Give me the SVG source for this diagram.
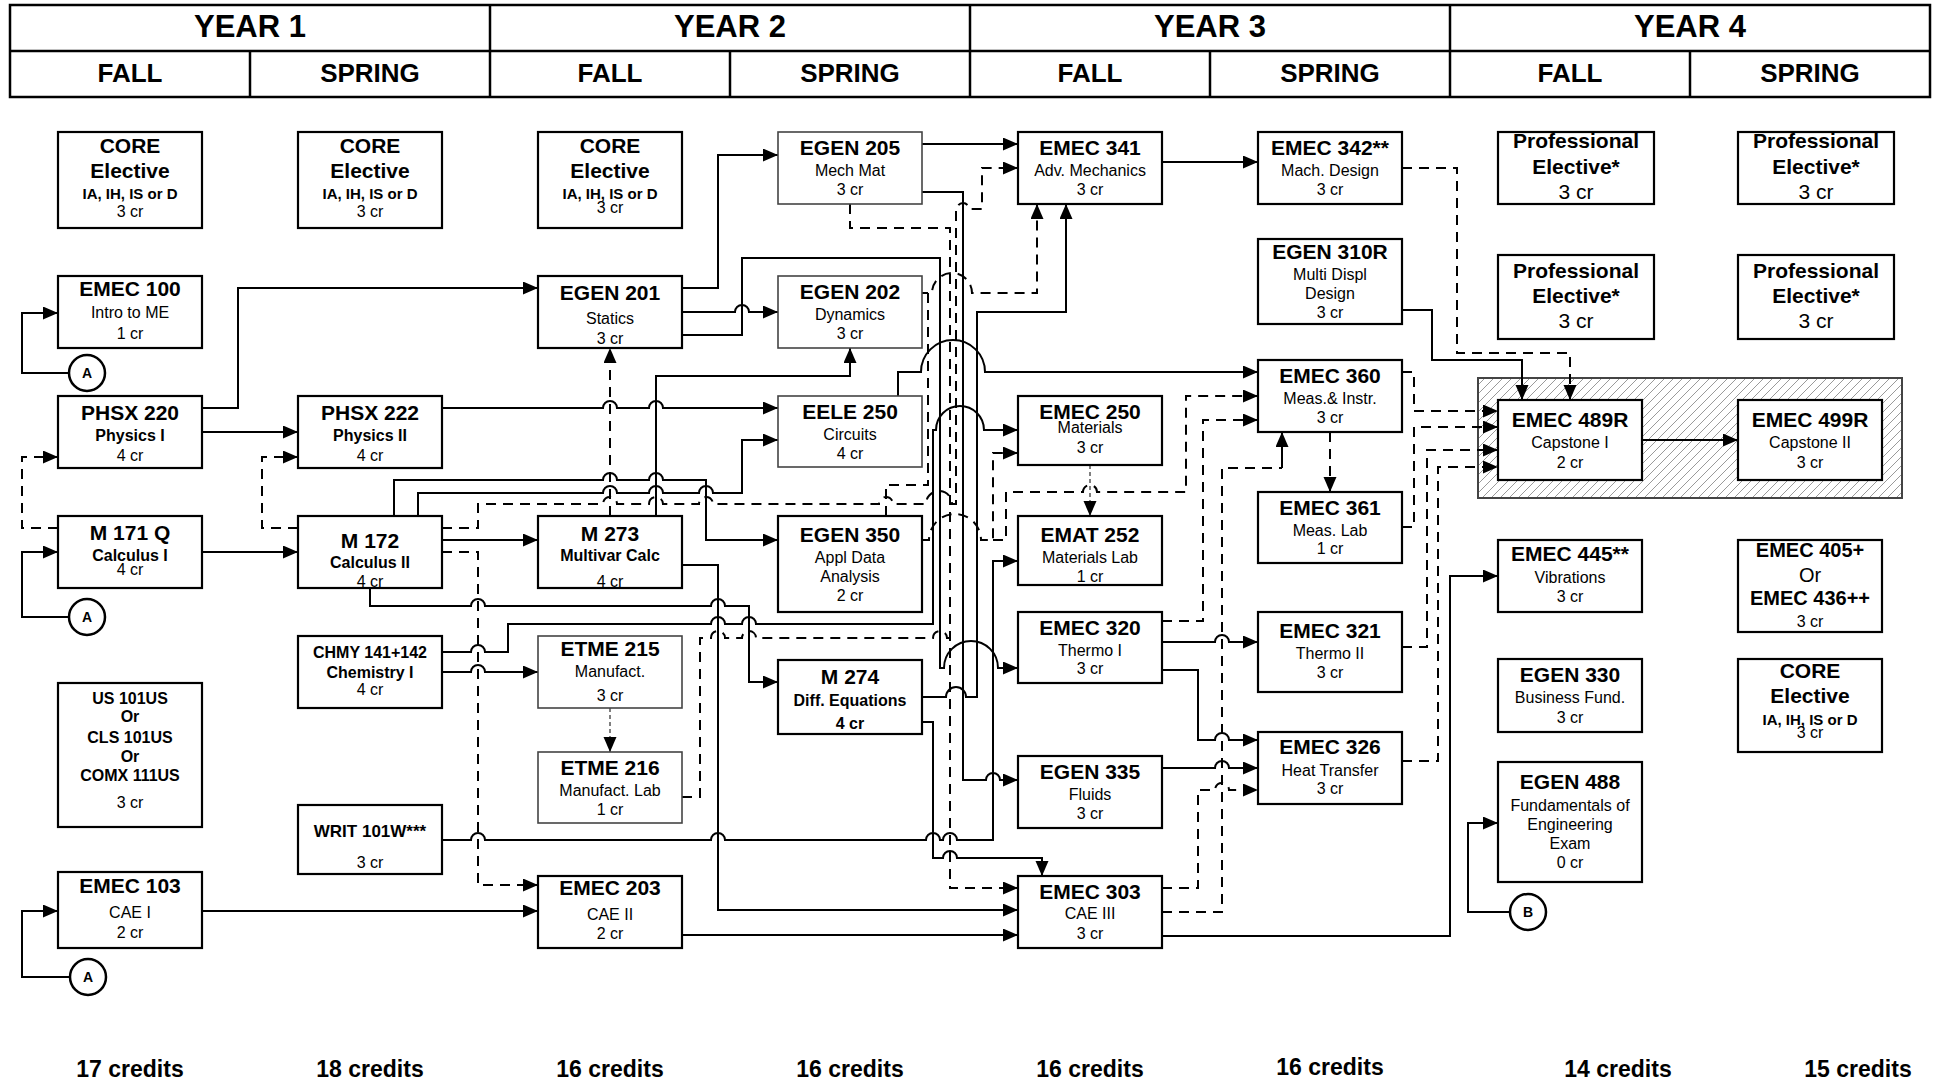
<svg xmlns="http://www.w3.org/2000/svg" width="1935" height="1081" viewBox="0 0 1935 1081">
<style>
text{font-family:"Liberation Sans",Arial,sans-serif;text-anchor:middle;fill:#000}
.hd1{font-size:31px;font-weight:bold}
.hd2{font-size:26px;font-weight:bold}
.h{font-size:21px;font-weight:bold}
.s{font-size:16px}
.sb{font-size:16px;font-weight:bold}
.cb{font-size:15px;font-weight:bold}
.b17{font-size:17px;font-weight:bold}
.b20{font-size:20px;font-weight:bold}
.r20{font-size:20px}
.r21{font-size:21px}
.cr{font-size:23px;font-weight:bold}
.ct{font-size:14px;font-weight:bold}
.box{fill:#fff;stroke:#000;stroke-width:2.2}
.gbox{fill:#fff;stroke:#444;stroke-width:1.6}
.grid{fill:none;stroke:#000;stroke-width:2.5}
.ln{fill:none;stroke:#000;stroke-width:2}
.dl{stroke-dasharray:10 7}
.gd{fill:none;stroke:#555;stroke-width:1.5;stroke-dasharray:4 3}
.circ{fill:#fff;stroke:#000;stroke-width:2.5}
</style>
<defs>
<marker id="ar" markerUnits="userSpaceOnUse" markerWidth="16" markerHeight="14" refX="15" refY="6.5" orient="auto"><path d="M0,0 L15,6.5 L0,13 z" fill="#000"/></marker>
<pattern id="hatch" patternUnits="userSpaceOnUse" width="9" height="9"><path d="M-2,2 l4,-4 M0,9 l9,-9 M7,11 l4,-4" stroke="#9a9a9a" stroke-width="1"/></pattern>
</defs>
<rect width="1935" height="1081" fill="#fff"/>

<g id="header">
<rect class="grid" x="10" y="5" width="1920" height="92"/>
<line class="grid" x1="10" y1="51" x2="1930" y2="51"/>
<line class="grid" x1="490" y1="5" x2="490" y2="97"/>
<line class="grid" x1="970" y1="5" x2="970" y2="97"/>
<line class="grid" x1="1450" y1="5" x2="1450" y2="97"/>
<line class="grid" x1="250" y1="51" x2="250" y2="97"/>
<line class="grid" x1="730" y1="51" x2="730" y2="97"/>
<line class="grid" x1="1210" y1="51" x2="1210" y2="97"/>
<line class="grid" x1="1690" y1="51" x2="1690" y2="97"/>
<text class="hd1" x="250" y="37">YEAR 1</text>
<text class="hd1" x="730" y="37">YEAR 2</text>
<text class="hd1" x="1210" y="37">YEAR 3</text>
<text class="hd1" x="1690" y="37">YEAR 4</text>
<text class="hd2" x="130" y="82">FALL</text>
<text class="hd2" x="370" y="82">SPRING</text>
<text class="hd2" x="610" y="82">FALL</text>
<text class="hd2" x="850" y="82">SPRING</text>
<text class="hd2" x="1090" y="82">FALL</text>
<text class="hd2" x="1330" y="82">SPRING</text>
<text class="hd2" x="1570" y="82">FALL</text>
<text class="hd2" x="1810" y="82">SPRING</text>
</g>

<g id="capstone-group">
<rect x="1478" y="378" width="424" height="120" fill="url(#hatch)" stroke="#444" stroke-width="2"/>
</g>

<g id="connectors">
<path class="ln" marker-end="url(#ar)" d="M69,373 H22 V313 H58"/>
<path class="ln" marker-end="url(#ar)" d="M69,617 H22 V552 H58"/>
<path class="ln" marker-end="url(#ar)" d="M70,977 H22 V911 H58"/>
<path class="ln dl" marker-end="url(#ar)" d="M58,528 H22 V457 H58"/>
<path class="ln dl" marker-end="url(#ar)" d="M298,528 H262 V457 H298"/>
<path class="ln" marker-end="url(#ar)" d="M202,432 H298"/>
<path class="ln" marker-end="url(#ar)" d="M202,552 H298"/>
<path class="ln" marker-end="url(#ar)" d="M202,408 H238 V288 H538"/>
<path class="ln" marker-end="url(#ar)" d="M442,540 H538"/>
<path class="ln dl" marker-end="url(#ar)" d="M442,552 H478 V885 H538"/>
<path class="ln dl" marker-end="url(#ar)" d="M442,528 H478 V504 H603 A7 7 0 0 1 617 504 H649 A7 7 0 0 1 663 504 H699 A7 7 0 0 1 713 504 H879 A7 7 0 0 1 893 504 H926 A13 13 0 0 1 952 504 H956 V209 H957 A6 6 0 0 1 969 209 H982 V168 H1018"/>
<path class="ln" marker-end="url(#ar)" d="M370,588 V606 H471 A7 7 0 0 1 485 606 H711 A7 7 0 0 1 725 606 H749 V682 H778"/>
<path class="ln" marker-end="url(#ar)" d="M394,516 V480 H603 A7 7 0 0 1 617 480 H649 A7 7 0 0 1 663 480 H706 V540 H778"/>
<path class="ln" marker-end="url(#ar)" d="M418,516 V493 H603 A7 7 0 0 1 617 493 H649 A7 7 0 0 1 663 493 H699 A7 7 0 0 1 713 493 H742 V440 H778"/>
<path class="ln" marker-end="url(#ar)" d="M442,408 H603 A7 7 0 0 1 617 408 H649 A7 7 0 0 1 663 408 H778"/>
<path class="ln dl" marker-end="url(#ar)" d="M610,516 V348"/>
<path class="ln" marker-end="url(#ar)" d="M656,516 V376 H850 V348"/>
<path class="ln" marker-end="url(#ar)" d="M682,288 H718 V155 H778"/>
<path class="ln" marker-end="url(#ar)" d="M682,312 H735 A7 7 0 0 1 749 312 H778"/>
<path class="ln" marker-end="url(#ar)" d="M682,335 H742 V258 H940 V668 H944 A27 27 0 0 1 998 668 H1018"/>
<path class="ln" marker-end="url(#ar)" d="M442,652 H471 A7 7 0 0 1 485 652 H508 V624 H711 A7 7 0 0 1 725 624 H742 A7 7 0 0 1 756 624 H933 V430 H936 A24 24 0 0 1 984 430 H1018"/>
<path class="ln" marker-end="url(#ar)" d="M442,672 H471 A7 7 0 0 1 485 672 H538"/>
<path class="ln" marker-end="url(#ar)" d="M442,840 H471 A7 7 0 0 1 485 840 H711 A7 7 0 0 1 725 840 H926 A7 7 0 0 1 940 840 H943 A7 7 0 0 1 957 840 H993 V561 H1018"/>
<path class="ln" marker-end="url(#ar)" d="M202,911 H538"/>
<path class="gd" marker-end="url(#ar)" d="M610,708 V752"/>
<path class="ln dl" d="M682,797 H700 V638 H711 A7 7 0 0 1 725 638 H742 A7 7 0 0 1 756 638 H933 A7 7 0 0 1 947 638 H950"/>
<path class="ln" marker-end="url(#ar)" d="M922,144 H1018"/>
<path class="ln" marker-end="url(#ar)" d="M922,192 H963 V780 H986 A7 7 0 0 1 1000 780 H1018"/>
<path class="ln dl" marker-end="url(#ar)" d="M850,204 V228 H950 V888 H1018"/>
<path class="ln dl" marker-end="url(#ar)" d="M886,516 V485 H928 V293 H932 A20 20 0 0 1 972 293 H1037 V204"/>
<path class="ln dl" d="M922,293 H928"/>
<path class="ln dl" marker-end="url(#ar)" d="M922,540 H929 A26 26 0 0 1 981 540 H993 V453 H1018"/>
<path class="ln dl" marker-end="url(#ar)" d="M993,540 H1006 V492 H1083 A7 7 0 0 1 1097 492 H1186 V396 H1258"/>
<path class="ln" marker-end="url(#ar)" d="M898,396 V372 H921 A32 32 0 0 1 985 372 H1258"/>
<path class="ln" marker-end="url(#ar)" d="M922,697 H946 A10 10 0 0 1 966 697 H977 V312 H1066 V204"/>
<path class="ln" marker-end="url(#ar)" d="M922,722 H933 V858 H943 A7 7 0 0 1 957 858 H1042 V876"/>
<path class="ln" marker-end="url(#ar)" d="M682,565 H718 V910 H1018"/>
<path class="ln" marker-end="url(#ar)" d="M682,935 H1018"/>
<path class="ln" marker-end="url(#ar)" d="M1162,162 H1258"/>
<path class="gd" marker-end="url(#ar)" d="M1090,465 V516"/>
<path class="ln dl" marker-end="url(#ar)" d="M1162,621 H1203 V420 H1258"/>
<path class="ln dl" d="M1162,912 H1222 V468 H1282"/>
<path class="ln" marker-end="url(#ar)" d="M1282,468 V432"/>
<path class="ln dl" marker-end="url(#ar)" d="M1162,888 H1198 V790 H1215 A7 7 0 0 1 1229 790 H1258"/>
<path class="ln" marker-end="url(#ar)" d="M1162,642 H1215 A7 7 0 0 1 1229 642 H1258"/>
<path class="ln" marker-end="url(#ar)" d="M1162,670 H1198 V740 H1215 A7 7 0 0 1 1229 740 H1258"/>
<path class="ln" marker-end="url(#ar)" d="M1162,768 H1215 A7 7 0 0 1 1229 768 H1258"/>
<path class="ln dl" marker-end="url(#ar)" d="M1330,432 V492"/>
<path class="ln dl" marker-end="url(#ar)" d="M1402,168 H1457 V353 H1570 V400"/>
<path class="ln" marker-end="url(#ar)" d="M1402,310 H1432 V360 H1522 V400"/>
<path class="ln dl" marker-end="url(#ar)" d="M1402,372 H1414 V411 H1498"/>
<path class="ln dl" marker-end="url(#ar)" d="M1402,527 H1414 V427 H1498"/>
<path class="ln dl" marker-end="url(#ar)" d="M1402,647 H1427 V450 H1498"/>
<path class="ln dl" marker-end="url(#ar)" d="M1402,761 H1438 V467 H1498"/>
<path class="ln" marker-end="url(#ar)" d="M1162,936 H1450 V576 H1498"/>
<path class="ln" marker-end="url(#ar)" d="M1642,440 H1738"/>
<path class="ln" marker-end="url(#ar)" d="M1510,912 H1468 V823 H1498"/>
</g>

<g id="connector-A1"><circle class="circ" cx="87" cy="373" r="18"/><text class="ct" x="87" y="378">A</text></g>
<g id="connector-A2"><circle class="circ" cx="87" cy="617" r="18"/><text class="ct" x="87" y="622">A</text></g>
<g id="connector-A3"><circle class="circ" cx="88" cy="977" r="18"/><text class="ct" x="88" y="982">A</text></g>
<g id="connector-B"><circle class="circ" cx="1528" cy="912" r="18"/><text class="ct" x="1528" y="917">B</text></g>

<g id="core-y1f"><rect class="box" x="58" y="132" width="144" height="96"/><text class="h" x="130" y="153">CORE</text><text class="h" x="130" y="178">Elective</text><text class="cb" x="130" y="199">IA, IH, IS or D</text><text class="s" x="130" y="217">3 cr</text></g>
<g id="core-y1s"><rect class="box" x="298" y="132" width="144" height="96"/><text class="h" x="370" y="153">CORE</text><text class="h" x="370" y="178">Elective</text><text class="cb" x="370" y="199">IA, IH, IS or D</text><text class="s" x="370" y="217">3 cr</text></g>
<g id="core-y2f"><rect class="box" x="538" y="132" width="144" height="96"/><text class="h" x="610" y="153">CORE</text><text class="h" x="610" y="178">Elective</text><text class="cb" x="610" y="199">IA, IH, IS or D</text><text class="s" x="610" y="213">3 cr</text></g>
<g id="core-y4s"><rect class="box" x="1738" y="659" width="144" height="93"/><text class="h" x="1810" y="678">CORE</text><text class="h" x="1810" y="703">Elective</text><text class="cb" x="1810" y="725">IA, IH, IS or D</text><text class="s" x="1810" y="738">3 cr</text></g>

<g id="emec100"><rect class="box" x="58" y="276" width="144" height="72"/><text class="h" x="130" y="296">EMEC 100</text><text class="s" x="130" y="318">Intro to ME</text><text class="s" x="130" y="339">1 cr</text></g>
<g id="phsx220"><rect class="box" x="58" y="396" width="144" height="72"/><text class="h" x="130" y="420">PHSX 220</text><text class="sb" x="130" y="441">Physics I</text><text class="s" x="130" y="461">4 cr</text></g>
<g id="m171q"><rect class="box" x="58" y="516" width="144" height="72"/><text class="h" x="130" y="540">M 171 Q</text><text class="sb" x="130" y="561">Calculus I</text><text class="s" x="130" y="575">4 cr</text></g>
<g id="us101"><rect class="box" x="58" y="683" width="144" height="144"/><text class="sb" x="130" y="704">US 101US</text><text class="sb" x="130" y="722">Or</text><text class="sb" x="130" y="743">CLS 101US</text><text class="sb" x="130" y="762">Or</text><text class="sb" x="130" y="781">COMX 111US</text><text class="s" x="130" y="808">3 cr</text></g>
<g id="emec103"><rect class="box" x="58" y="872" width="144" height="76"/><text class="h" x="130" y="893">EMEC 103</text><text class="s" x="130" y="918">CAE I</text><text class="s" x="130" y="938">2 cr</text></g>

<g id="phsx222"><rect class="box" x="298" y="396" width="144" height="72"/><text class="h" x="370" y="420">PHSX 222</text><text class="sb" x="370" y="441">Physics II</text><text class="s" x="370" y="461">4 cr</text></g>
<g id="m172"><rect class="box" x="298" y="516" width="144" height="72"/><text class="h" x="370" y="548">M 172</text><text class="sb" x="370" y="568">Calculus II</text><text class="s" x="370" y="587">4 cr</text></g>
<g id="chmy141"><rect class="box" x="298" y="636" width="144" height="72"/><text class="sb" x="370" y="658">CHMY 141+142</text><text class="sb" x="370" y="678">Chemistry I</text><text class="s" x="370" y="695">4 cr</text></g>
<g id="writ101"><rect class="box" x="298" y="805" width="144" height="69"/><text class="b17" x="370" y="837">WRIT 101W***</text><text class="s" x="370" y="868">3 cr</text></g>

<g id="egen201"><rect class="box" x="538" y="276" width="144" height="72"/><text class="h" x="610" y="300">EGEN 201</text><text class="s" x="610" y="324">Statics</text><text class="s" x="610" y="344">3 cr</text></g>
<g id="m273"><rect class="box" x="538" y="516" width="144" height="72"/><text class="h" x="610" y="541">M 273</text><text class="sb" x="610" y="561">Multivar Calc</text><text class="s" x="610" y="587">4 cr</text></g>
<g id="etme215"><rect class="gbox" x="538" y="636" width="144" height="72"/><text class="h" x="610" y="656">ETME 215</text><text class="s" x="610" y="677">Manufact.</text><text class="s" x="610" y="701">3 cr</text></g>
<g id="etme216"><rect class="gbox" x="538" y="752" width="144" height="71"/><text class="h" x="610" y="775">ETME 216</text><text class="s" x="610" y="796">Manufact. Lab</text><text class="s" x="610" y="815">1 cr</text></g>
<g id="emec203"><rect class="box" x="538" y="876" width="144" height="72"/><text class="h" x="610" y="895">EMEC 203</text><text class="s" x="610" y="920">CAE II</text><text class="s" x="610" y="939">2 cr</text></g>

<g id="egen205"><rect class="gbox" x="778" y="132" width="144" height="72"/><text class="h" x="850" y="155">EGEN 205</text><text class="s" x="850" y="176">Mech Mat</text><text class="s" x="850" y="195">3 cr</text></g>
<g id="egen202"><rect class="gbox" x="778" y="276" width="144" height="72"/><text class="h" x="850" y="299">EGEN 202</text><text class="s" x="850" y="320">Dynamics</text><text class="s" x="850" y="339">3 cr</text></g>
<g id="eele250"><rect class="gbox" x="778" y="396" width="144" height="71"/><text class="h" x="850" y="419">EELE 250</text><text class="s" x="850" y="440">Circuits</text><text class="s" x="850" y="459">4 cr</text></g>
<g id="egen350"><rect class="box" x="778" y="516" width="144" height="96"/><text class="h" x="850" y="542">EGEN 350</text><text class="s" x="850" y="563">Appl Data</text><text class="s" x="850" y="582">Analysis</text><text class="s" x="850" y="601">2 cr</text></g>
<g id="m274"><rect class="box" x="778" y="660" width="144" height="74"/><text class="h" x="850" y="684">M 274</text><text class="sb" x="850" y="706">Diff. Equations</text><text class="sb" x="850" y="729">4 cr</text></g>

<g id="emec341"><rect class="box" x="1018" y="132" width="144" height="72"/><text class="h" x="1090" y="155">EMEC 341</text><text class="s" x="1090" y="176">Adv. Mechanics</text><text class="s" x="1090" y="195">3 cr</text></g>
<g id="emec250"><rect class="box" x="1018" y="396" width="144" height="69"/><text class="h" x="1090" y="419">EMEC 250</text><text class="s" x="1090" y="433">Materials</text><text class="s" x="1090" y="453">3 cr</text></g>
<g id="emat252"><rect class="box" x="1018" y="516" width="144" height="69"/><text class="h" x="1090" y="542">EMAT 252</text><text class="s" x="1090" y="563">Materials Lab</text><text class="s" x="1090" y="582">1 cr</text></g>
<g id="emec320"><rect class="box" x="1018" y="612" width="144" height="71"/><text class="h" x="1090" y="635">EMEC 320</text><text class="s" x="1090" y="656">Thermo I</text><text class="s" x="1090" y="674">3 cr</text></g>
<g id="egen335"><rect class="box" x="1018" y="756" width="144" height="72"/><text class="h" x="1090" y="779">EGEN 335</text><text class="s" x="1090" y="800">Fluids</text><text class="s" x="1090" y="819">3 cr</text></g>
<g id="emec303"><rect class="box" x="1018" y="876" width="144" height="72"/><text class="h" x="1090" y="899">EMEC 303</text><text class="s" x="1090" y="919">CAE III</text><text class="s" x="1090" y="939">3 cr</text></g>

<g id="emec342"><rect class="box" x="1258" y="132" width="144" height="72"/><text class="h" x="1330" y="155">EMEC 342**</text><text class="s" x="1330" y="176">Mach. Design</text><text class="s" x="1330" y="195">3 cr</text></g>
<g id="egen310r"><rect class="box" x="1258" y="239" width="144" height="85"/><text class="h" x="1330" y="259">EGEN 310R</text><text class="s" x="1330" y="280">Multi Displ</text><text class="s" x="1330" y="299">Design</text><text class="s" x="1330" y="318">3 cr</text></g>
<g id="emec360"><rect class="box" x="1258" y="360" width="144" height="72"/><text class="h" x="1330" y="383">EMEC 360</text><text class="s" x="1330" y="404">Meas.&amp; Instr.</text><text class="s" x="1330" y="423">3 cr</text></g>
<g id="emec361"><rect class="box" x="1258" y="492" width="144" height="71"/><text class="h" x="1330" y="515">EMEC 361</text><text class="s" x="1330" y="536">Meas. Lab</text><text class="s" x="1330" y="554">1 cr</text></g>
<g id="emec321"><rect class="box" x="1258" y="612" width="144" height="80"/><text class="h" x="1330" y="638">EMEC 321</text><text class="s" x="1330" y="659">Thermo II</text><text class="s" x="1330" y="678">3 cr</text></g>
<g id="emec326"><rect class="box" x="1258" y="732" width="144" height="72"/><text class="h" x="1330" y="754">EMEC 326</text><text class="s" x="1330" y="776">Heat Transfer</text><text class="s" x="1330" y="794">3 cr</text></g>

<g id="prof-y4f-1"><rect class="box" x="1498" y="132" width="156" height="72"/><text class="h" x="1576" y="148">Professional</text><text class="h" x="1576" y="174">Elective*</text><text class="r21" x="1576" y="199">3 cr</text></g>
<g id="prof-y4f-2"><rect class="box" x="1498" y="255" width="156" height="84"/><text class="h" x="1576" y="278">Professional</text><text class="h" x="1576" y="303">Elective*</text><text class="r21" x="1576" y="328">3 cr</text></g>
<g id="prof-y4s-1"><rect class="box" x="1738" y="132" width="156" height="72"/><text class="h" x="1816" y="148">Professional</text><text class="h" x="1816" y="174">Elective*</text><text class="r21" x="1816" y="199">3 cr</text></g>
<g id="prof-y4s-2"><rect class="box" x="1738" y="255" width="156" height="84"/><text class="h" x="1816" y="278">Professional</text><text class="h" x="1816" y="303">Elective*</text><text class="r21" x="1816" y="328">3 cr</text></g>

<g id="emec489r"><rect class="box" x="1498" y="400" width="144" height="80"/><text class="h" x="1570" y="427">EMEC 489R</text><text class="s" x="1570" y="448">Capstone I</text><text class="s" x="1570" y="468">2 cr</text></g>
<g id="emec499r"><rect class="box" x="1738" y="400" width="144" height="80"/><text class="h" x="1810" y="427">EMEC 499R</text><text class="s" x="1810" y="448">Capstone II</text><text class="s" x="1810" y="468">3 cr</text></g>
<g id="emec445"><rect class="box" x="1498" y="540" width="144" height="72"/><text class="h" x="1570" y="561">EMEC 445**</text><text class="s" x="1570" y="583">Vibrations</text><text class="s" x="1570" y="602">3 cr</text></g>
<g id="emec405"><rect class="box" x="1738" y="540" width="144" height="92"/><text class="b20" x="1810" y="557">EMEC 405+</text><text class="r20" x="1810" y="582">Or</text><text class="b20" x="1810" y="605">EMEC 436++</text><text class="s" x="1810" y="627">3 cr</text></g>
<g id="egen330"><rect class="box" x="1498" y="659" width="144" height="73"/><text class="h" x="1570" y="682">EGEN 330</text><text class="s" x="1570" y="703">Business Fund.</text><text class="s" x="1570" y="723">3 cr</text></g>
<g id="egen488"><rect class="box" x="1498" y="762" width="144" height="120"/><text class="h" x="1570" y="789">EGEN 488</text><text class="s" x="1570" y="811">Fundamentals of</text><text class="s" x="1570" y="830">Engineering</text><text class="s" x="1570" y="849">Exam</text><text class="s" x="1570" y="868">0 cr</text></g>

<g id="credits">
<text class="cr" x="130" y="1077">17 credits</text>
<text class="cr" x="370" y="1077">18 credits</text>
<text class="cr" x="610" y="1077">16 credits</text>
<text class="cr" x="850" y="1077">16 credits</text>
<text class="cr" x="1090" y="1077">16 credits</text>
<text class="cr" x="1330" y="1075">16 credits</text>
<text class="cr" x="1618" y="1077">14 credits</text>
<text class="cr" x="1858" y="1077">15 credits</text>
</g>
</svg>
